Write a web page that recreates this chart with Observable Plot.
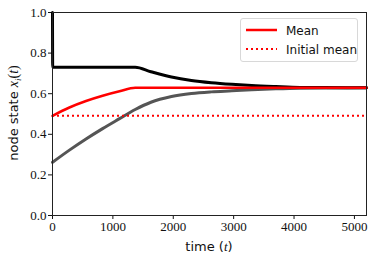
<!DOCTYPE html>
<html><head><meta charset="utf-8">
<script src="https://cdn.jsdelivr.net/npm/d3@7"></script>
<script src="https://cdn.jsdelivr.net/npm/@observablehq/plot@0.6"></script>
<style>
body{margin:0;background:#fff;}
#wrap{position:relative;width:374px;height:262px;}
#legend{position:absolute;left:240px;top:18px;width:116px;height:42px;border:1px solid #d8d8d8;border-radius:3px;background:rgba(255,255,255,0.85);font-family:"DejaVu Sans",sans-serif;font-size:12px;color:#111;}
</style></head><body>
<div id="wrap"></div>
<script>
// Node 1 (black)
const tBlack = [0, 3, 1370, 1630, 1970, 2300, 2630, 2970, 3300, 3700, 4100, 4500, 5200];
const xBlack = [1.0, 0.73, 0.73, 0.708, 0.682, 0.665, 0.654, 0.646, 0.640, 0.635, 0.631, 0.630, 0.629];
// Node 2 (gray)
const tGray = [0, 280, 555, 830, 1110, 1370, 1630, 1970, 2300, 2630, 2970, 3300, 3700, 4100, 5200];
const xGray = [0.262, 0.322, 0.377, 0.428, 0.477, 0.522, 0.558, 0.586, 0.601, 0.609, 0.614, 0.619, 0.624, 0.627, 0.629];
// Mean (red)
const tMean = [0, 280, 555, 830, 1110, 1370, 5200];
const xMean = [0.491, 0.532, 0.564, 0.59, 0.612, 0.629, 0.629];
const initialMean = 0.491;
const xTicks = [0, 1000, 2000, 3000, 4000, 5000];
const yTicks = [0, 0.2, 0.4, 0.6, 0.8, 1.0];

const black = tBlack.map((t,i)=>({t, v:xBlack[i]}));
const gray = tGray.map((t,i)=>({t, v:xGray[i]}));
const mean = tMean.map((t,i)=>({t, v:xMean[i]}));

const chart = Plot.plot({
  width: 374, height: 262,
  marginLeft: 52, marginRight: 8, marginTop: 12, marginBottom: 47,
  style: {fontFamily: "'Liberation Serif', serif", fontSize: "13px", color: "#111", background: "#fff"},
  x: {domain: [0, 5200], ticks: xTicks, tickFormat: d3.format("d"), tickSize: 4, tickPadding: 2, label: null},
  y: {domain: [0, 1], ticks: yTicks, tickFormat: d3.format(".1f"), tickSize: 4, tickPadding: 2, label: null},
  marks: [
    Plot.line(gray, {x: "t", y: "v", stroke: "#555", strokeWidth: 3, curve: "monotone-x"}),
    Plot.line(black, {x: "t", y: "v", stroke: "#000", strokeWidth: 3, curve: "monotone-x"}),
    Plot.ruleY([initialMean], {stroke: "#ff0000", strokeWidth: 2, strokeDasharray: "2,3"}),
    Plot.line(mean, {x: "t", y: "v", stroke: "#ff0000", strokeWidth: 2.5, curve: "monotone-x"}),
    Plot.frame({stroke: "#222", strokeWidth: 1})
  ]
});
const wrap = document.getElementById("wrap");
wrap.appendChild(chart);

const svg = d3.select(chart);
// x label
svg.append("text").attr("x", 209).attr("y", 251).attr("text-anchor", "middle")
  .attr("font-family", "'DejaVu Sans', sans-serif").attr("font-size", 13).attr("fill", "#111")
  .call(t => { t.append("tspan").text("time ("); t.append("tspan").attr("font-family","'Liberation Serif', serif").attr("font-style","italic").text("t"); t.append("tspan").text(")"); });
// y label
svg.append("text").attr("transform", "translate(18,113) rotate(-90)").attr("text-anchor", "middle")
  .attr("font-family", "'DejaVu Sans', sans-serif").attr("font-size", 13).attr("fill", "#111")
  .call(t => {
    t.append("tspan").text("node state ");
    t.append("tspan").attr("font-family","'Liberation Serif', serif").attr("font-style","italic").attr("font-size",14).text("x");
    t.append("tspan").attr("font-family","'Liberation Serif', serif").attr("font-style","italic").attr("font-size",9).attr("dy",3).text("i");
    t.append("tspan").attr("font-family","'Liberation Serif', serif").attr("font-size",14).attr("dy",-3).text("(");
    t.append("tspan").attr("font-family","'Liberation Serif', serif").attr("font-style","italic").attr("font-size",14).text("t");
    t.append("tspan").attr("font-family","'Liberation Serif', serif").attr("font-size",14).text(")");
  });

// legend
const leg = document.createElement("div");
leg.id = "legend";
leg.innerHTML = `
<svg width="116" height="42" style="position:absolute;left:0;top:0">
  <line x1="5" x2="36" y1="11" y2="11" stroke="#ff0000" stroke-width="2.5"/>
  <line x1="5" x2="36" y1="30" y2="30" stroke="#ff0000" stroke-width="2" stroke-dasharray="2,3"/>
  <text x="45" y="15.5" font-family="DejaVu Sans, sans-serif" font-size="12" fill="#111">Mean</text>
  <text x="45" y="34.5" font-family="DejaVu Sans, sans-serif" font-size="12" fill="#111">Initial mean</text>
</svg>`;
wrap.appendChild(leg);
</script>
</body></html>
